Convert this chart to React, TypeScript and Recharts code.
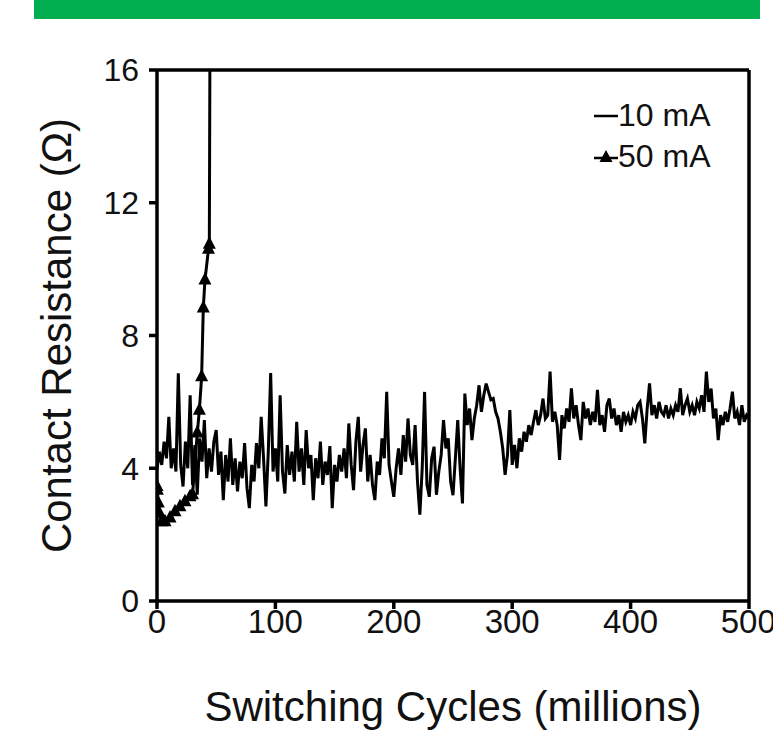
import { LineChart, Line, XAxis, YAxis, ReferenceLine } from "recharts";

const FONT = "'Liberation Sans', Arial, sans-serif";

// 10 mA trace, one reading every 2 million cycles from 0 to 500
const STEP_10MA = 2;
const res10mA = [
  3.95, 4.5, 4.1, 4.8, 4.3, 5.55, 4.0, 4.6, 3.9, 6.86,
  4.1, 3.45, 4.8, 4.0, 6.2, 3.5, 4.7, 3.2, 4.9, 4.2,
  5.45, 3.7, 4.6, 3.9, 4.8, 5.15, 3.8, 4.5, 3.04, 4.4,
  3.6, 4.9, 3.5, 4.3, 3.3, 4.2, 3.7, 4.76, 3.4, 2.8,
  4.1, 3.6, 4.76, 4.0, 5.55, 4.3, 2.85, 4.5, 6.87, 3.9,
  4.6, 3.6, 6.2, 3.9, 3.24, 4.7, 3.8, 4.5, 3.6, 5.4,
  3.9, 4.6, 3.5, 5.15, 4.0, 4.4, 3.04, 4.3, 3.7, 4.8,
  3.5, 4.2, 3.8, 4.67, 2.8, 4.1, 3.6, 4.4, 3.9, 4.6,
  3.7, 5.35, 4.1, 3.34, 4.8, 5.55, 3.9, 4.7, 5.2, 3.6,
  4.4, 3.5, 3.04, 4.2, 3.8, 4.9, 4.3, 6.3, 4.1, 3.6,
  3.14, 4.0, 4.6, 3.8, 5.0, 4.2, 5.5, 4.4, 4.1, 5.3,
  3.6, 2.6, 4.0, 6.3, 3.5, 3.14, 4.3, 4.65, 3.2, 3.9,
  4.4, 5.45, 4.6, 4.9, 3.6, 3.19, 4.3, 5.45, 4.0, 2.94,
  6.25, 5.3, 5.8, 4.85, 5.5, 5.9, 6.5, 5.7, 6.2, 6.55,
  6.3, 6.06, 6.1, 5.7, 5.5, 5.1, 4.6, 3.8, 4.4, 5.75,
  4.1, 4.7, 4.0, 4.9, 4.5, 5.1, 4.8, 5.3, 5.0, 5.4,
  5.75, 5.3, 5.6, 6.1, 5.5, 5.6, 6.91, 5.4, 5.7, 5.3,
  4.25, 5.6, 5.2, 5.8, 5.4, 6.41, 5.5, 5.9, 5.3, 4.85,
  6.0, 5.5, 5.8, 5.3, 5.7, 5.4, 6.36, 5.3, 5.6, 5.1,
  5.9, 6.1, 5.5, 5.8, 5.3, 5.6, 5.1, 5.7, 5.4, 5.6,
  5.3, 5.7, 5.5, 5.9, 6.0, 5.5, 4.75, 5.8, 6.56, 5.6,
  5.9, 5.5, 6.0, 5.7, 5.6, 5.9, 5.5, 5.8, 5.6, 5.9,
  5.7, 6.41, 5.6, 5.9, 6.1, 5.7, 5.9, 5.6, 6.0, 5.8,
  6.2, 5.7, 6.91, 6.0, 6.4, 5.5, 5.8, 4.85, 5.6, 5.3,
  5.7, 5.4, 5.8, 6.31, 5.5, 5.7, 5.3, 5.9, 5.4, 5.6,
  5.5,
];

// 50 mA trace (fails at ~45 million cycles)
const cycles50mA = [0, 0.3, 1.1, 2, 4, 6.8, 11, 15.2, 19.4, 23.6, 27.9, 30, 34, 35.8, 37.7, 39.1, 40.5, 43.5, 44.2, 45];
const res50mA = [3.45, 3.34, 2.95, 2.65, 2.39, 2.39, 2.5, 2.69, 2.84, 2.99, 3.14, 3.2, 5.06, 5.75, 6.76, 8.83, 9.67, 10.6, 10.75, 20];

const xTicks = [0, 100, 200, 300, 400, 500];
const yTicks = [0, 4, 8, 12, 16];

const data10 = res10mA.map((r, i) => ({ cycles: i * STEP_10MA, r }));
const data50 = res50mA.map((r, i) => ({ cycles: cycles50mA[i], r }));

const Triangle = (props: any) => {
  const { cx, cy, index } = props;
  if (cx == null || cy == null || cy < 60) return <g key={index} />;
  return <path key={index} d={`M${cx},${cy - 8} L${cx + 6.5},${cy + 4.5} L${cx - 6.5},${cy + 4.5} Z`} fill="#000" />;
};

const LegendBox = () => (
  <div style={{ position: "absolute", left: 594, top: 95, fontFamily: FONT, fontSize: 32, color: "#111", lineHeight: "41px" }}>
    <div style={{ display: "flex", alignItems: "center" }}>
      <svg width={24} height={10}><line x1={0} y1={5} x2={24} y2={5} stroke="#000" strokeWidth={2.5} /></svg>
      <span>10 mA</span>
    </div>
    <div style={{ display: "flex", alignItems: "center" }}>
      <svg width={24} height={16}>
        <line x1={0} y1={9} x2={24} y2={9} stroke="#000" strokeWidth={2.5} />
        <path d="M12,1 L18.5,13 L5.5,13 Z" fill="#000" />
      </svg>
      <span>50 mA</span>
    </div>
  </div>
);

export default function App() {
  return (
    <div style={{ position: "absolute", left: 0, top: 0, width: 773, height: 731, background: "#fff", overflow: "hidden" }}>
      <div style={{ position: "absolute", left: 34, top: 0, width: 726, height: 19, background: "#00ad4f" }} />
      <div style={{ position: "absolute", left: 0, top: 0 }}>
        <LineChart width={773} height={731} margin={{ top: 70, right: 24, bottom: 0, left: 0 }}>
          <XAxis
            type="number"
            dataKey="cycles"
            domain={[0, 500]}
            ticks={xTicks}
            allowDataOverflow
            height={130}
            stroke="#000"
            strokeWidth={3.5}
            tickSize={8}
            tickMargin={1}
            tick={{ fontSize: 33, fill: "#111", fontFamily: FONT }}
            label={{ value: "Switching Cycles (millions)", position: "insideBottom", offset: 10, fontSize: 42, fill: "#111", fontFamily: FONT }}
          />
          <YAxis
            type="number"
            domain={[0, 16]}
            ticks={yTicks}
            allowDataOverflow
            width={157}
            stroke="#000"
            strokeWidth={3.5}
            tickSize={8}
            tickMargin={10}
            tick={{ fontSize: 32, fill: "#111", fontFamily: FONT }}
            label={{ value: "Contact Resistance (Ω)", angle: -90, position: "insideLeft", offset: 56, fontSize: 42, fill: "#111", fontFamily: FONT, style: { textAnchor: "middle" } }}
          />
          <ReferenceLine y={16} stroke="#000" strokeWidth={3.5} />
          <ReferenceLine x={500} stroke="#000" strokeWidth={3.5} />
          <Line
            data={data10}
            dataKey="r"
            name="10 mA"
            stroke="#000"
            strokeWidth={3}
            dot={false}
            isAnimationActive={false}
          />
          <Line
            data={data50}
            dataKey="r"
            name="50 mA"
            stroke="#000"
            strokeWidth={3}
            dot={<Triangle />}
            isAnimationActive={false}
          />
        </LineChart>
      </div>
      <LegendBox />
    </div>
  );
}
